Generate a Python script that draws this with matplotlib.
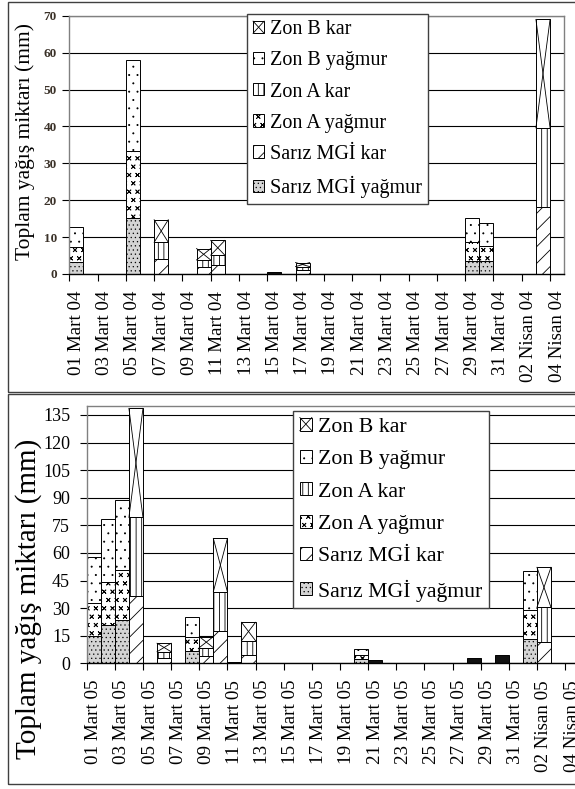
import numpy as np
import matplotlib
matplotlib.use('Agg')
import matplotlib.pyplot as plt
import matplotlib.hatch as mhatch
from matplotlib.path import Path
from matplotlib.patches import Rectangle
from matplotlib.lines import Line2D
from matplotlib.legend_handler import HandlerBase

# ---- data (mm per day, index 0 = 01 Mart) ----
labels_04 = ['01 Mart 04', '03 Mart 04', '05 Mart 04', '07 Mart 04', '09 Mart 04',
             '11 Mart 04', '13 Mart 04', '15 Mart 04', '17 Mart 04', '19 Mart 04',
             '21 Mart 04', '23 Mart 04', '25 Mart 04', '27 Mart 04', '29 Mart 04',
             '31 Mart 04', '02 Nisan 04', '04 Nisan 04']
labels_05 = ['01 Mart 05', '03 Mart 05', '05 Mart 05', '07 Mart 05', '09 Mart 05',
             '11 Mart 05', '13 Mart 05', '15 Mart 05', '17 Mart 05', '19 Mart 05',
             '21 Mart 05', '23 Mart 05', '25 Mart 05', '27 Mart 05', '29 Mart 05',
             '31 Mart 05', '02 Nisan 05', '04 Nisan 05']
series_names = ['Sarız MGİ yağmur', 'Sarız MGİ kar', 'Zon A yağmur', 'Zon A kar',
                'Zon B yağmur', 'Zon B kar']

sariz_yagmur_04 = [3.3, 0, 0, 0, 15.1, 0, 0, 0, 0, 0,
                   0, 0, 0, 0, 0, 0, 0, 0, 0, 0,
                   0, 0, 0, 0, 0, 0, 0, 0, 3.6, 3.6,
                   0, 0, 0, 0, 0]
sariz_kar_04 = [0, 0, 0, 0, 0, 0, 4.0, 0, 0, 1.8,
                2.4, 0, 0, 0, 0, 0, 1.0, 0, 0, 0,
                0, 0, 0, 0, 0, 0, 0, 0, 0, 0,
                0, 0, 0, 18.1, 0]
zonA_yagmur_04 = [3.9, 0, 0, 0, 18.2, 0, 0, 0, 0, 0,
                  0, 0, 0, 0, 0, 0, 0, 0, 0, 0,
                  0, 0, 0, 0, 0, 0, 0, 0, 5.0, 4.0,
                  0, 0, 0, 0, 0]
zonA_kar_04 = [0, 0, 0, 0, 0, 0, 4.6, 0, 0, 2.0,
               2.7, 0, 0, 0, 0, 0, 1.0, 0, 0, 0,
               0, 0, 0, 0, 0, 0, 0, 0, 0, 0,
               0, 0, 0, 21.5, 0]
zonB_yagmur_04 = [5.5, 0, 0, 0, 24.8, 0, 0, 0, 0, 0,
                  0, 0, 0, 0, 0, 0, 0, 0, 0, 0,
                  0, 0, 0, 0, 0, 0, 0, 0, 6.7, 6.1,
                  0, 0, 0, 0, 0]
zonB_kar_04 = [0, 0, 0, 0, 0, 0, 6.1, 0, 0, 3.1,
               4.0, 0, 0, 0, 0, 0, 1.1, 0, 0, 0,
               0, 0, 0, 0, 0, 0, 0, 0, 0, 0,
               0, 0, 0, 29.4, 0]
diger_04 = [0, 0, 0, 0, 0, 0, 0, 0, 0, 0,
            0, 0, 0, 0, 0.6, 0, 0, 0, 0, 0,
            0, 0, 0, 0, 0, 0, 0, 0, 0, 0,
            0, 0, 0, 0, 0]

sariz_yagmur_05 = [15.0, 20.8, 23.4, 0, 0, 0, 0, 6.7, 0, 0,
                   0, 0, 0, 0, 0, 0, 0, 0, 0, 2.5,
                   0, 0, 0, 0, 0, 0, 0, 0, 0, 0,
                   0, 13.0, 0, 0, 0]
sariz_kar_05 = [0, 0, 0, 36.4, 0, 2.7, 0, 0, 4.0, 17.8,
                0, 4.5, 0, 0, 0, 0, 0, 0, 0, 0,
                0, 0, 0, 0, 0, 0, 0, 0, 0, 0,
                0, 0, 11.8, 0, 0]
zonA_yagmur_05 = [17.8, 23.6, 27.3, 0, 0, 0, 0, 7.4, 0, 0,
                  0, 0, 0, 0, 0, 0, 0, 0, 0, 2.0,
                  0, 0, 0, 0, 0, 0, 0, 0, 0, 0,
                  0, 16.0, 0, 0, 0]
zonA_kar_05 = [0, 0, 0, 42.9, 0, 3.6, 0, 0, 4.5, 21.1,
               0, 7.8, 0, 0, 0, 0, 0, 0, 0, 0,
               0, 0, 0, 0, 0, 0, 0, 0, 0, 0,
               0, 0, 18.6, 0, 0]
zonB_yagmur_05 = [24.9, 34.2, 37.9, 0, 0, 0, 0, 10.9, 0, 0,
                  0, 0, 0, 0, 0, 0, 0, 0, 0, 3.3,
                  0, 0, 0, 0, 0, 0, 0, 0, 0, 0,
                  0, 21.4, 0, 0, 0]
zonB_kar_05 = [0, 0, 0, 59.3, 0, 4.6, 0, 0, 6.0, 29.0,
               0, 10.0, 0, 0, 0, 0, 0, 0, 0, 0,
               0, 0, 0, 0, 0, 0, 0, 0, 0, 0,
               0, 0, 21.8, 0, 0]
diger_05 = [0, 0, 0, 0, 0, 0, 0, 0, 0, 0,
            0.9, 0, 0, 0, 0, 0, 0, 0, 0, 0,
            1.8, 0, 0, 0, 0, 0, 0, 3.1, 0, 4.5,
            0, 0, 0, 0, 0]


# small "x" marks hatch (Excel style), used through the 'O' character
class SmallCrosses(mhatch.Shapes):
    size = 0.4
    filled = False

    def __init__(self, hatch, density):
        self.num_rows = hatch.count('O') * density
        self.shape_vertices = np.array([[-.5, -.5], [.5, .5], [-.5, .5], [.5, -.5]])
        self.shape_codes = np.array([Path.MOVETO, Path.LINETO, Path.MOVETO, Path.LINETO],
                                    dtype=Path.code_type)
        super().__init__(hatch, density)


mhatch.SmallFilledCircles.size = 0.07
mhatch._hatch_types = [t for t in mhatch._hatch_types if t is not mhatch.LargeCircles] + [SmallCrosses]

plt.rcParams['font.family'] = ['Liberation Serif', 'DejaVu Serif']
plt.rcParams['hatch.linewidth'] = 0.6

hatches = ['....', '//', 'OO', '|||', '..', '']
faces = ['#d4d4d4', 'white', 'white', 'white', 'white', 'white']


class HandlerCrossBox(HandlerBase):
    def create_artists(self, legend, orig_handle, xdescent, ydescent, width, height,
                       fontsize, trans):
        x0, y0 = -xdescent, -ydescent
        box = Rectangle((x0, y0), width, height, facecolor='white', edgecolor='black',
                        lw=0.7, transform=trans)
        l1 = Line2D([x0, x0 + width], [y0, y0 + height], color='black', lw=0.6, transform=trans)
        l2 = Line2D([x0, x0 + width], [y0 + height, y0], color='black', lw=0.6, transform=trans)
        return [box, l1, l2]


def draw_panel(ax, series, extra, labels, ymax, ystep, tick_fs, tick_color, ypad):
    n = len(series[0])
    x = np.arange(n)
    bottom = np.zeros(n)
    conts = []
    for vals, face, hatch in zip(series, faces, hatches):
        vals = np.asarray(vals, dtype=float)
        m = vals > 0
        bc = ax.bar(x[m], vals[m], width=1, bottom=bottom[m], align='edge',
                    facecolor=face, edgecolor='black', hatch=hatch, linewidth=0.7, zorder=2)
        conts.append(bc)
        bottom += vals
    # big cross over every "Zon B kar" segment
    for p in conts[-1].patches:
        x0, y0, w, h = p.get_x(), p.get_y(), p.get_width(), p.get_height()
        ax.plot([x0, x0 + w], [y0, y0 + h], color='black', lw=0.6, zorder=3)
        ax.plot([x0, x0 + w], [y0 + h, y0], color='black', lw=0.6, zorder=3)
    ex = np.asarray(extra, dtype=float)
    m = ex > 0
    ax.bar(x[m], ex[m], width=1, bottom=bottom[m], align='edge', color='#111111',
           edgecolor='black', linewidth=0.7, zorder=2, label='_nolegend_')

    ax.set_xlim(0, n)
    ax.set_ylim(0, ymax)
    ax.set_yticks(np.arange(0, ymax + 1, ystep))
    ax.yaxis.grid(True, color='black', lw=0.8)
    ax.set_axisbelow(True)
    ax.set_xticks(np.arange(0, n, 2))
    ax.set_xticks(np.arange(0, n, 2) + 0.5, minor=True)
    ax.set_xticklabels([])
    ax.set_xticklabels(labels, minor=True, rotation=90, fontsize=13.7, va='top')
    ax.tick_params(axis='x', which='major', length=5, width=0.8, direction='out')
    ax.tick_params(axis='x', which='minor', length=0, pad=12)
    ax.tick_params(axis='y', length=5, width=0.8, direction='out', labelsize=tick_fs,
                   labelcolor=tick_color, pad=ypad)
    for s in ['top', 'right', 'left']:
        ax.spines[s].set_color('#808080')
        ax.spines[s].set_linewidth(1)
    ax.spines['bottom'].set_color('black')
    ax.spines['bottom'].set_linewidth(1)
    return conts


W, H = 575, 789
fig = plt.figure(figsize=(W / 100, H / 100), dpi=100)

# chart-area frames
fig.add_artist(Rectangle((8.3 / W, 1 - 392 / H), 1.2, (392 - 1.7) / H, transform=fig.transFigure,
                         fill=False, edgecolor='#404040', lw=1))
fig.add_artist(Rectangle((8.3 / W, 1 - 784.3 / H), 1.2, (784.3 - 394.3) / H, transform=fig.transFigure,
                         fill=False, edgecolor='#404040', lw=1))

ax1 = fig.add_axes([69.3 / W, 1 - 274 / H, 494.9 / W, 258.3 / H])
s04 = [sariz_yagmur_04, sariz_kar_04, zonA_yagmur_04, zonA_kar_04, zonB_yagmur_04, zonB_kar_04]
c1 = draw_panel(ax1, s04, diger_04, labels_04, 70, 10, 9.5, '#3a3128', 4)
for t in ax1.get_yticklabels():
    t.set_fontweight('bold')

ax2 = fig.add_axes([86.7 / W, 1 - 663.3 / H, 35 * 14.07 / W, 257.5 / H])
s05 = [sariz_yagmur_05, sariz_kar_05, zonA_yagmur_05, zonA_kar_05, zonB_yagmur_05, zonB_kar_05]
c2 = draw_panel(ax2, s05, diger_05, labels_05, 140, 15, 13, 'black', 7)

fig.text(25 / W, 1 - 142 / H, 'Toplam yağış miktarı (mm)', rotation=90, ha='center', va='center',
         fontsize=15.5)
fig.text(29 / W, 1 - 599 / H, 'Toplam yağış miktarı (mm)', rotation=90, ha='center', va='center',
         fontsize=21)

for ax, conts, anchor, fs in [(ax1, c1, (247 / W, 1 - 14.3 / H), 14.5),
                              (ax2, c2, (293.3 / W, 1 - 411 / H), 15.7)]:
    leg = ax.legend(conts[::-1], series_names[::-1], loc='upper left', bbox_to_anchor=anchor,
                    bbox_transform=fig.transFigure, borderaxespad=0, fontsize=fs,
                    handlelength=0.55, handleheight=0.55, handletextpad=0.3,
                    labelspacing=0.6, borderpad=0.3, fancybox=False, framealpha=1,
                    edgecolor='#404040', handler_map={conts[-1]: HandlerCrossBox()})
    leg.get_frame().set_linewidth(1)
    leg.set_zorder(5)

fig.savefig('out.png', dpi=100)
